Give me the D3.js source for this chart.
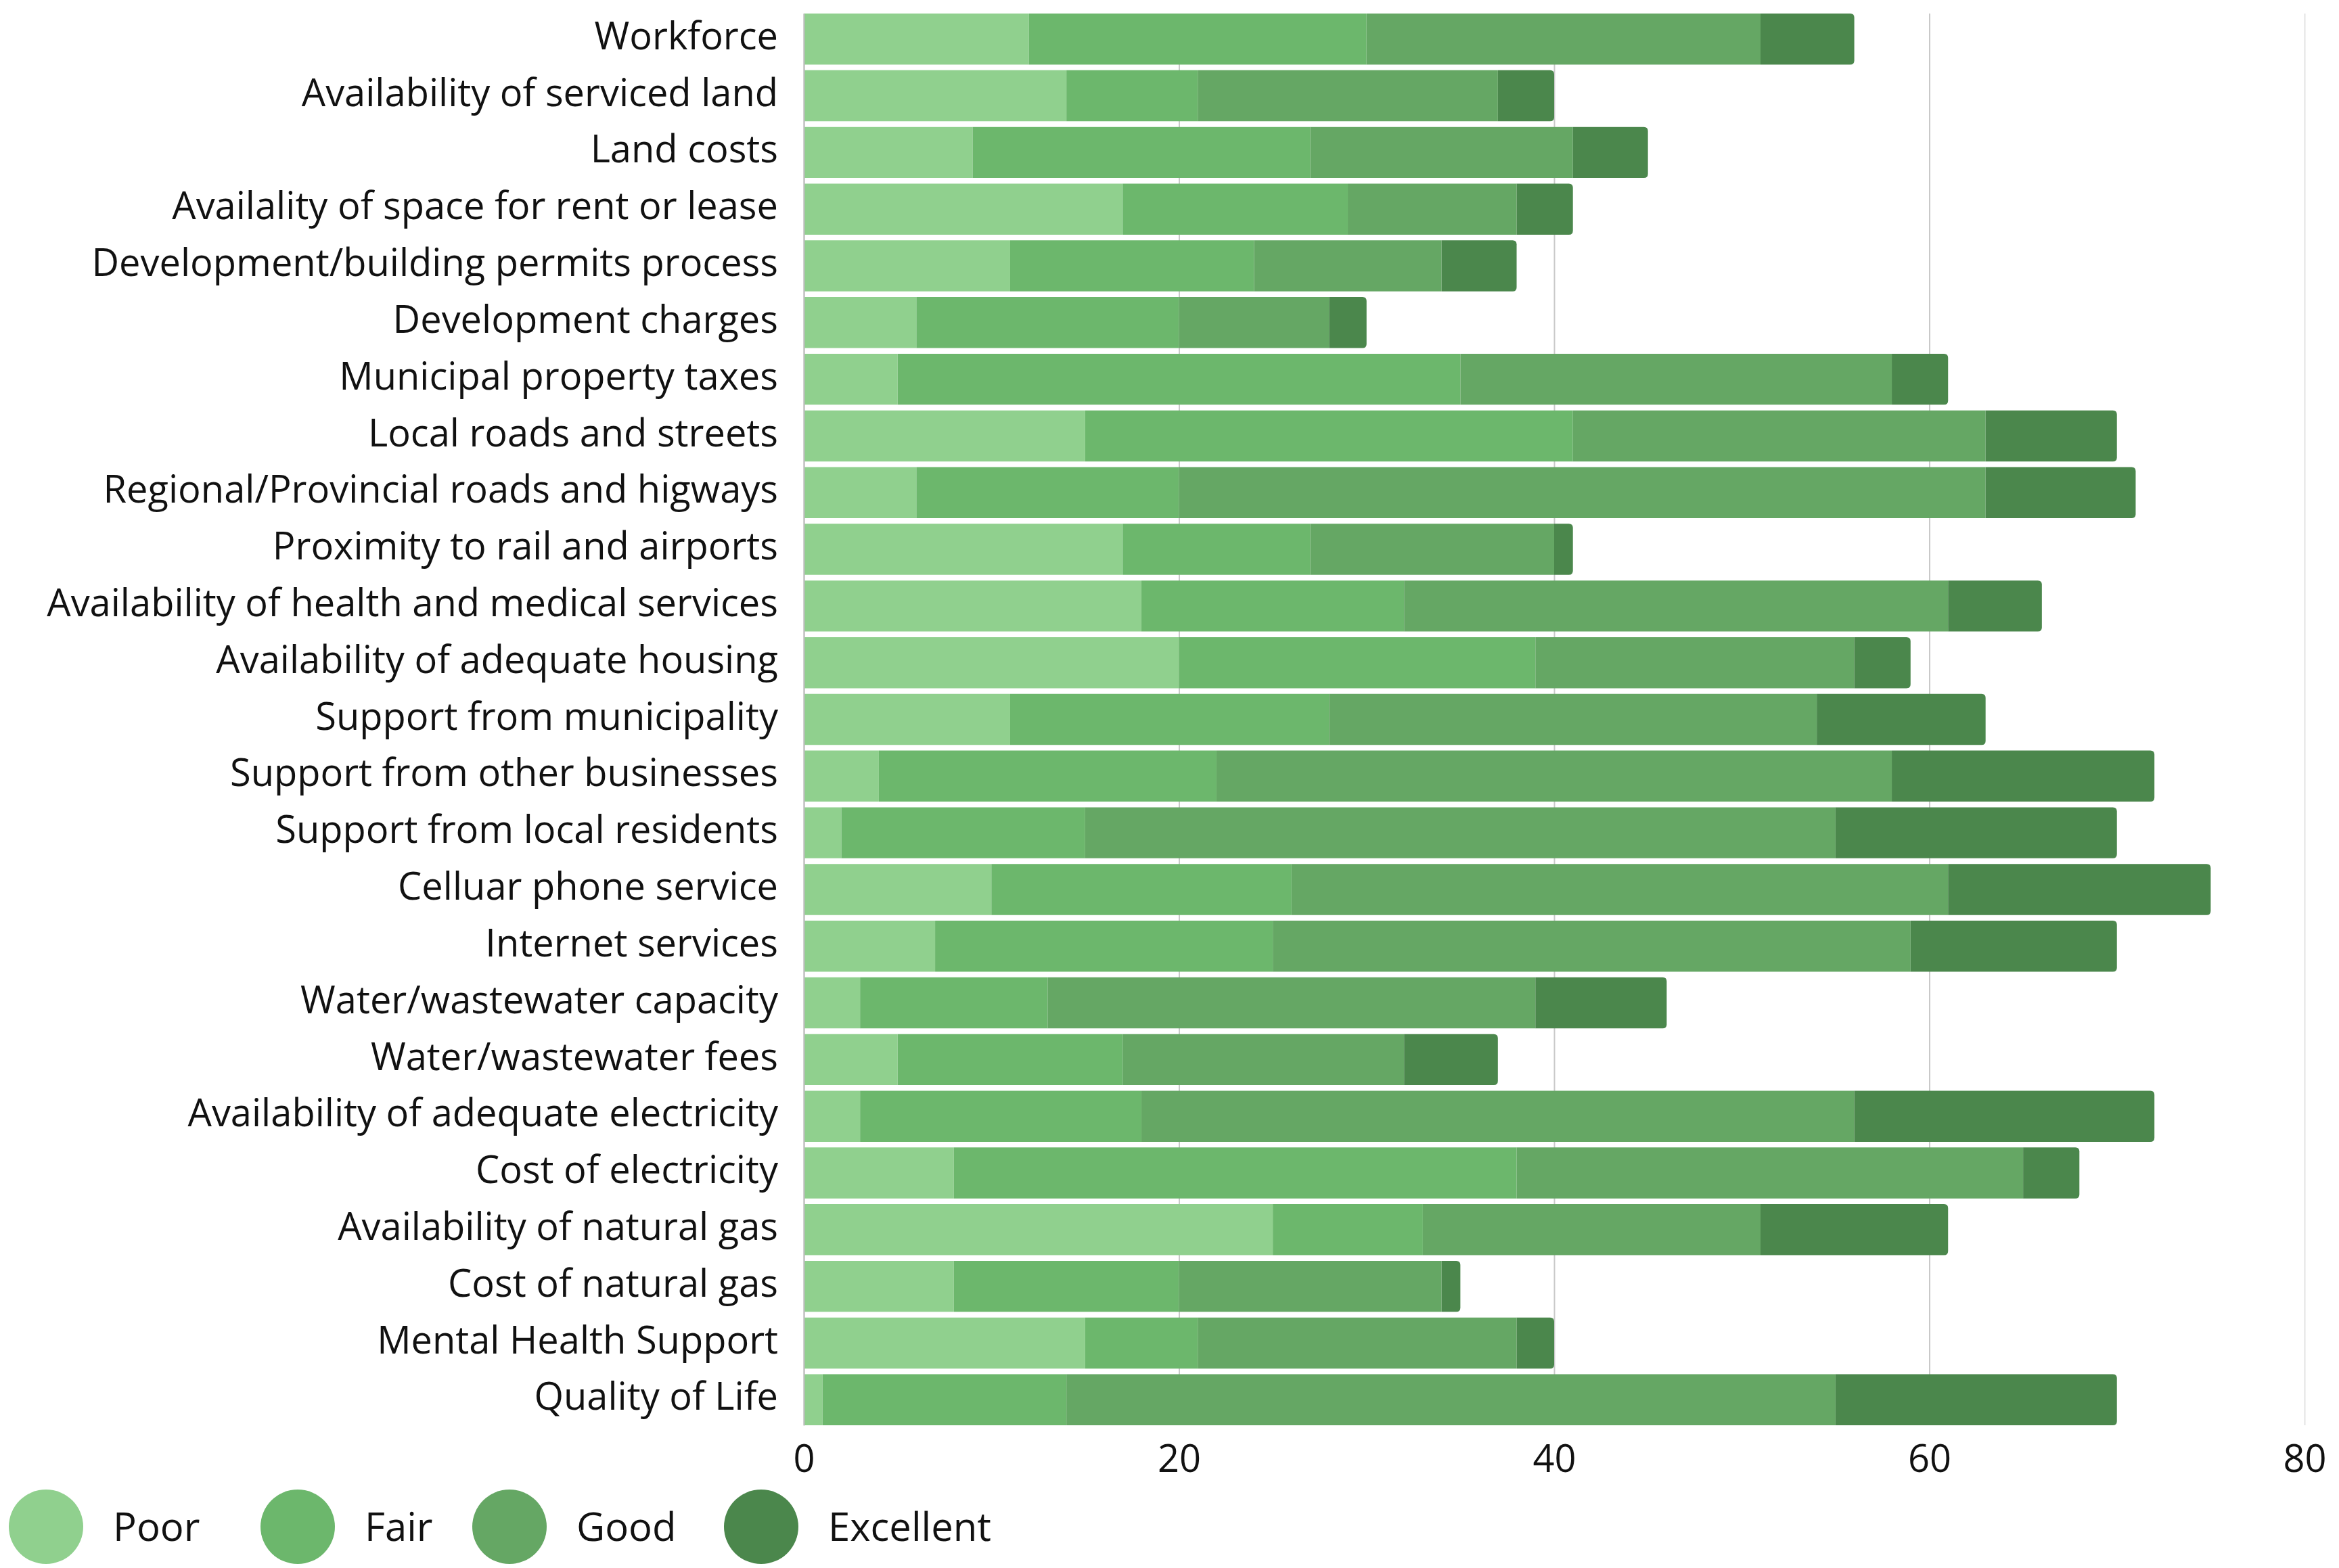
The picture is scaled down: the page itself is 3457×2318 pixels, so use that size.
<!DOCTYPE html>
<html>
<head>
<meta charset="utf-8">
<script src="https://cdn.jsdelivr.net/npm/d3@7"></script>
<style>
  body { margin: 0; background: #ffffff; }
  text { font-family: "Open Sans", "Noto Sans", sans-serif; fill: #111; }
</style>
</head>
<body>
<div id="chart"></div>
<script>
// categories, top to bottom
const categories = [
  "Workforce",
  "Availability of serviced land",
  "Land costs",
  "Availality of space for rent or lease",
  "Development/building permits process",
  "Development charges",
  "Municipal property taxes",
  "Local roads and streets",
  "Regional/Provincial roads and higways",
  "Proximity to rail and airports",
  "Availability of health and medical services",
  "Availability of adequate housing",
  "Support from municipality",
  "Support from other businesses",
  "Support from local residents",
  "Celluar phone service",
  "Internet services",
  "Water/wastewater capacity",
  "Water/wastewater fees",
  "Availability of adequate electricity",
  "Cost of electricity",
  "Availability of natural gas",
  "Cost of natural gas",
  "Mental Health Support",
  "Quality of Life"
];

const poor      = [12, 14,  9, 17, 11,  6,  5, 15,  6, 17, 18, 20, 11,  4,  2, 10,  7,  3,  5,  3,  8, 25,  8, 15,  1];
const fair      = [18,  7, 18, 12, 13, 14, 30, 26, 14, 10, 14, 19, 17, 18, 13, 16, 18, 10, 12, 15, 30,  8, 12,  6, 13];
const good      = [21, 16, 14,  9, 10,  8, 23, 22, 43, 13, 29, 17, 26, 36, 40, 35, 34, 26, 15, 38, 27, 18, 14, 17, 41];
const excellent = [ 5,  3,  4,  3,  4,  2,  3,  7,  8,  1,  5,  3,  9, 14, 15, 14, 11,  7,  5, 16,  3, 10,  1,  2, 15];

const seriesNames = ["Poor", "Fair", "Good", "Excellent"];
const seriesColors = ["#90d08e", "#6cb76c", "#65a764", "#4b874c"];
const xTicks = [0, 20, 40, 60, 80];

function draw_chart() {
  const W = 3457, H = 2318;
  const margin = {top: 20, right: 51, bottom: 211, left: 1188};
  const width = W - margin.left - margin.right,
        height = H - margin.top - margin.bottom;

  const svg = d3.select("#chart")
    .append("svg")
      .attr("width", W)
      .attr("height", H);

  const g = svg.append("g")
      .attr("transform", `translate(${margin.left}, ${margin.top})`);

  // build the table for stacking
  const rows = categories.map((c, i) => ({
    category: c, Poor: poor[i], Fair: fair[i], Good: good[i], Excellent: excellent[i]
  }));
  const stacked = d3.stack().keys(seriesNames)(rows);

  const x = d3.scaleLinear()
    .domain([0, 80])
    .range([0, width]);

  const y = d3.scaleBand()
    .domain(categories)
    .range([0, height])
    .paddingInner(0.1)
    .paddingOuter(0);

  const color = d3.scaleOrdinal()
    .domain(seriesNames)
    .range(seriesColors);

  // gridlines
  g.append("g")
    .attr("class", "grid")
    .attr("transform", `translate(0, ${height})`)
    .call(d3.axisBottom(x).tickValues(xTicks).tickSize(-height).tickFormat(""))
    .call(gg => gg.select(".domain").remove())
    .call(gg => gg.selectAll(".tick line")
      .attr("stroke", d => d === 80 ? "#e4e4e4" : "#c9c9c9")
      .attr("stroke-width", 2));

  // rounded right end for the last segment
  function roundRight(x0, y0, w, h, r) {
    r = Math.min(r, w);
    return `M${x0},${y0}H${x0 + w - r}Q${x0 + w},${y0} ${x0 + w},${y0 + r}` +
           `V${y0 + h - r}Q${x0 + w},${y0 + h} ${x0 + w - r},${y0 + h}H${x0}Z`;
  }

  // bars
  g.selectAll(".layer")
    .data(stacked)
    .join("g")
      .attr("class", "layer")
      .attr("fill", d => color(d.key))
    .selectAll("path")
    .data(d => d.map(v => ({v: v, last: d.key === "Excellent"})))
    .join("path")
      .attr("d", d => {
        const x0 = x(d.v[0]), w = x(d.v[1]) - x(d.v[0]);
        const y0 = y(d.v.data.category), h = y.bandwidth();
        if (d.last) return roundRight(x0, y0, w, h, 6);
        return `M${x0},${y0}H${x0 + w}V${y0 + h}H${x0}Z`;
      });

  // x axis labels
  g.append("g")
    .attr("transform", `translate(0, ${height})`)
    .call(d3.axisBottom(x).tickValues(xTicks).tickSize(0).tickFormat(d3.format("d")))
    .call(gg => gg.select(".domain").remove())
    .call(gg => gg.selectAll(".tick text")
      .attr("y", 69)
      .attr("dy", 0)
      .style("font-size", "56px")
      .style("font-family", "\"Open Sans\", sans-serif")
      .attr("fill", "#111"));

  // category labels
  g.append("g")
    .call(d3.axisLeft(y).tickSize(0).tickPadding(38))
    .call(gg => gg.select(".domain")
      .attr("stroke", "#bdbdbd")
      .attr("stroke-width", 2))
    .call(gg => gg.selectAll(".tick text")
      .attr("dy", "0.27em")
      .style("font-size", "56px")
      .style("font-family", "\"Open Sans\", sans-serif")
      .attr("fill", "#111"));

  // legend
  const legendX = [68, 440, 753, 1125];
  const legend = svg.append("g")
    .selectAll("g")
    .data(seriesNames)
    .join("g")
      .attr("transform", (d, i) => `translate(${legendX[i]}, 2257)`);

  legend.append("circle")
    .attr("r", 55)
    .attr("fill", d => color(d));

  legend.append("text")
    .attr("x", 99)
    .attr("dy", "0.36em")
    .style("font-size", "58px")
    .text(d => d);
}

draw_chart();
</script>
</body>
</html>
